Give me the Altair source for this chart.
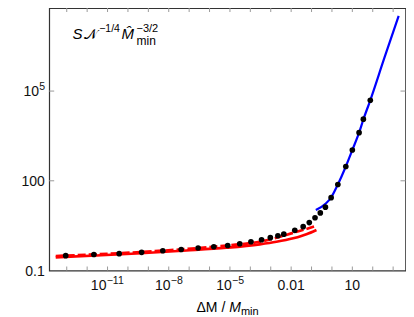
import altair as alt
import pandas as pd

# ---- data (log-log) ----
dot_x = [8.9e-14, 2.14e-12, 3.72e-11, 4.68e-10, 5.13e-9, 4.07e-8, 2.75e-7, 1.62e-6,
         7.76e-6, 3.02e-5, 1.07e-4, 3.55e-4, 9.55e-4, 2.24e-3, 4.37e-3, 0.0151,
         0.0389, 0.0776, 0.148, 0.269, 0.479, 0.912, 1.95, 4.79, 10.0, 21.4, 34.7, 75.9]
dot_y = [0.313, 0.343, 0.365, 0.406, 0.459, 0.504, 0.566, 0.621,
         0.686, 0.782, 0.918, 1.064, 1.250, 1.449, 1.637, 2.208,
         2.917, 4.0, 5.79, 8.43, 13.1, 27.2, 75.2, 300.6, 1072, 4064, 11482, 49204]

blue_x = [0.162, 0.501, 0.912, 1.95, 4.79, 10.0, 21.4, 34.7, 75.9, 371.5, 1862]
blue_y = [10.5, 17.4, 27.6, 75.2, 300.6, 1072, 4064, 11220, 49204, 1.28e6, 3.25e7]

red_solid_x = [2.88e-14, 2.88e-12, 2.63e-10, 7.41e-8, 6.76e-6, 2.88e-4, 1.91e-3,
               0.0126, 0.0316, 0.0562, 0.174]
red_solid_y = [0.276, 0.318, 0.371, 0.467, 0.579, 0.752, 0.912,
               1.194, 1.426, 1.626, 2.265]

red_dashed_x = [2.88e-14, 2.88e-12, 2.63e-10, 7.41e-8, 6.76e-6, 2.88e-4, 1.91e-3,
                0.0126, 0.0562, 0.162]
red_dashed_y = [0.305, 0.348, 0.406, 0.524, 0.686, 0.918, 1.242,
                1.824, 2.455, 3.076]

x_tick_values = [1e-11, 1e-8, 1e-5, 0.01, 10]
x_label_base = ["10", "10", "10", "0.01", "10"]
x_label_exp = ["\u221211", "\u22128", "\u22125", "", ""]
y_tick_values = [0.1, 100, 1e5]
y_label_base = ["0.1", "100", "10"]
y_label_exp = ["", "", "5"]
x_minor_ticks = [1e-13, 1e-12, 1e-11, 1e-10, 1e-9, 1e-8, 1e-7, 1e-6, 1e-5, 1e-4,
                 1e-3, 1e-2, 1e-1, 1, 10, 100, 1000]
y_major_ticks = [100, 1e5]

x_domain = [1.38e-14, 4036]
y_domain = [0.1, 6.0e7]

# ---- layout ----
W, H = 356.3, 262.5
FONT = "Liberation Sans"
BASE_FS, EXP_FS = 14, 10.5
CHAR_W = {".": 0.278, "\u2212": 0.584}


def text_w(s, size):
    return sum(CHAR_W.get(c, 0.556) for c in s) * size


xs = alt.Scale(type="log", domain=x_domain, nice=False)
ys = alt.Scale(type="log", domain=y_domain, nice=False)

dots_df = pd.DataFrame({"x": dot_x, "y": dot_y})
blue_df = pd.DataFrame({"x": blue_x, "y": blue_y})
rs_df = pd.DataFrame({"x": red_solid_x, "y": red_solid_y})
rd_df = pd.DataFrame({"x": red_dashed_x, "y": red_dashed_y})
xt_df = pd.DataFrame({"x": x_minor_ticks})
yt_df = pd.DataFrame({"y": y_major_ticks})
one = pd.DataFrame({"a": [0]})

X = alt.X("x:Q", scale=xs, axis=None)
Y = alt.Y("y:Q", scale=ys, axis=None)

red_solid = alt.Chart(rs_df).mark_line(color="#ff0000", strokeWidth=2.7,
                                       interpolate="monotone").encode(x=X, y=Y)
red_dashed = alt.Chart(rd_df).mark_line(color="#ff0000", strokeWidth=2.7, strokeDash=[8, 3],
                                        interpolate="monotone").encode(x=X, y=Y)
blue = alt.Chart(blue_df).mark_line(color="#0000ff", strokeWidth=2.2,
                                    interpolate="monotone").encode(x=X, y=Y)
dots = alt.Chart(dots_df).mark_circle(size=32, color="black", opacity=1).encode(x=X, y=Y)

tick_col = "#9a9a9a"
xt_bottom = alt.Chart(xt_df).mark_rule(color=tick_col, strokeWidth=1).encode(
    x=X, y=alt.value(H), y2=alt.value(H - 4))
xt_top = alt.Chart(xt_df).mark_rule(color=tick_col, strokeWidth=1).encode(
    x=X, y=alt.value(0), y2=alt.value(4))
yt_left = alt.Chart(yt_df).mark_rule(color=tick_col, strokeWidth=1).encode(
    y=Y, x=alt.value(0), x2=alt.value(5))
yt_right = alt.Chart(yt_df).mark_rule(color=tick_col, strokeWidth=1).encode(
    y=Y, x=alt.value(W), x2=alt.value(W - 5))

# ---- tick labels (base + raised exponent) ----
label_layers = []
for v, b, e in zip(x_tick_values, x_label_base, x_label_exp):
    d = pd.DataFrame({"x": [v]})
    total = text_w(b, BASE_FS) + text_w(e, EXP_FS)
    dx = -total / 2 + text_w(b, BASE_FS)
    label_layers.append(alt.Chart(d).mark_text(
        text=b, font=FONT, fontSize=BASE_FS, align="right", baseline="alphabetic",
        dx=dx, color="#111").encode(x=X, y=alt.value(H + 19.5)))
    if e:
        label_layers.append(alt.Chart(d).mark_text(
            text=e, font=FONT, fontSize=EXP_FS, align="left", baseline="alphabetic",
            dx=dx + 0.3, color="#111").encode(x=X, y=alt.value(H + 13.5)))
for v, b, e in zip(y_tick_values, y_label_base, y_label_exp):
    d = pd.DataFrame({"y": [v]})
    right = -4.4 - text_w(e, EXP_FS)
    label_layers.append(alt.Chart(d).mark_text(
        text=b, font=FONT, fontSize=BASE_FS, align="right", baseline="middle",
        dy=1, color="#111").encode(y=Y, x=alt.value(right)))
    if e:
        label_layers.append(alt.Chart(d).mark_text(
            text=e, font=FONT, fontSize=EXP_FS, align="left", baseline="middle",
            dy=-4, color="#111").encode(y=Y, x=alt.value(right + 0.3)))


def txt(s, x, y, size=15, italic=False, font=FONT):
    kw = dict(text=s, fontSize=size, font=font, align="left", baseline="alphabetic",
              color="black")
    if italic:
        kw["fontStyle"] = "italic"
    return alt.Chart(one).mark_text(**kw).encode(x=alt.value(x), y=alt.value(y))


annot = [
    txt("S", 23.3, 31.0, 15, True),
    txt("\U0001D4A9", 34.6, 31.0, 14, False, "DejaVu Sans"),
    txt("\u22121/4", 50.0, 23.7, 10.5),
    txt("M\u0302", 72.3, 31.0, 15, True),
    txt("\u22123/2", 87.3, 23.5, 11),
    txt("min", 87.3, 37.0, 12),
    txt("\u0394M /", 147.3, 303.7, 14),
    txt("M", 180.0, 303.7, 14, True),
    txt("min", 191.7, 306.7, 11),
]

chart = alt.layer(xt_bottom, xt_top, yt_left, yt_right, red_solid, red_dashed, blue, dots,
                  *label_layers, *annot).properties(
    width=W, height=H,
    padding={"left": 41.2, "top": 0, "right": 0.5, "bottom": 46.5},
    autosize=alt.AutoSizeParams(type="none"),
).configure_view(stroke="#333333", strokeWidth=1.2)

chart.save("out.html", embed_options={"renderer": "svg", "actions": False})
